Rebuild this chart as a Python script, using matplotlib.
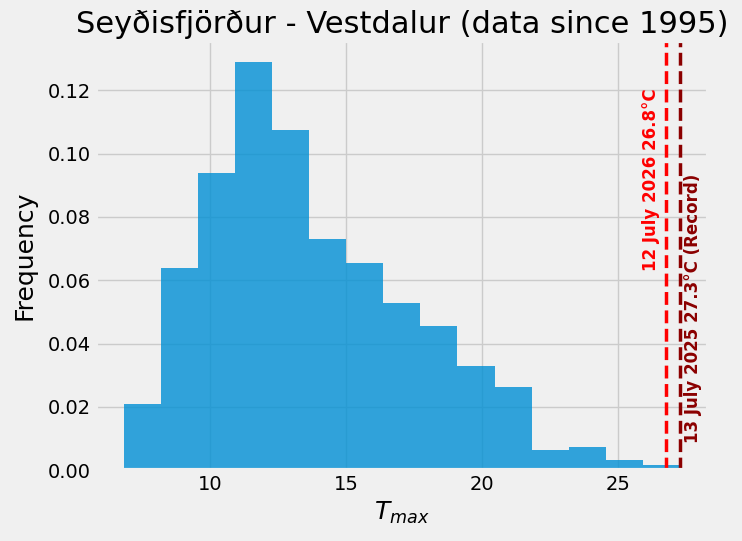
import numpy as np
import matplotlib
matplotlib.use('Agg')
import matplotlib.pyplot as plt

station = 'Seyðisfjörður - Vestdalur'
first_year = 1995

# histogram (15 bins between lowest and highest Tmax)
t_lo = 6.8
t_hi = 27.3
n_bins = 15
freq = [0.0209, 0.0640, 0.0939, 0.1291, 0.1075, 0.0729, 0.0656, 0.0529,
        0.0455, 0.0329, 0.0262, 0.0063, 0.0073, 0.0032, 0.0016]

today_label = '12 July 2026'
today_t = 26.8
record_label = '13 July 2025'
record_t = 27.3

plt.style.use('fivethirtyeight')

edges = np.linspace(t_lo, t_hi, n_bins + 1)

fig = plt.figure(figsize=(7.42, 5.41), dpi=100)
ax = fig.add_axes([0.129, 0.131, 0.825, 0.793])
ax.hist(edges[:-1], bins=edges, weights=freq, alpha=0.8)

ax.axvline(today_t, color='red', linestyle='--', lw=2.5)
ax.axvline(record_t, color='darkred', linestyle='--', lw=2.5)

ax.text(today_t - 0.25, 0.1207, f'{today_label} {today_t}°C', color='red',
        rotation=90, ha='right', va='top', fontsize=12, fontweight='bold')
ax.text(record_t + 0.15, 0.0085, f'{record_label} {record_t}°C (Record)',
        color='darkred', rotation=90, ha='left', va='bottom',
        fontsize=12, fontweight='bold')

ax.set_title(f'{station} (data since {first_year})', fontsize=22)
ax.set_xlabel('$T_{max}$', fontsize=18)
ax.set_ylabel('Frequency', fontsize=18, labelpad=8)

fig.savefig('out.png', dpi=100)
